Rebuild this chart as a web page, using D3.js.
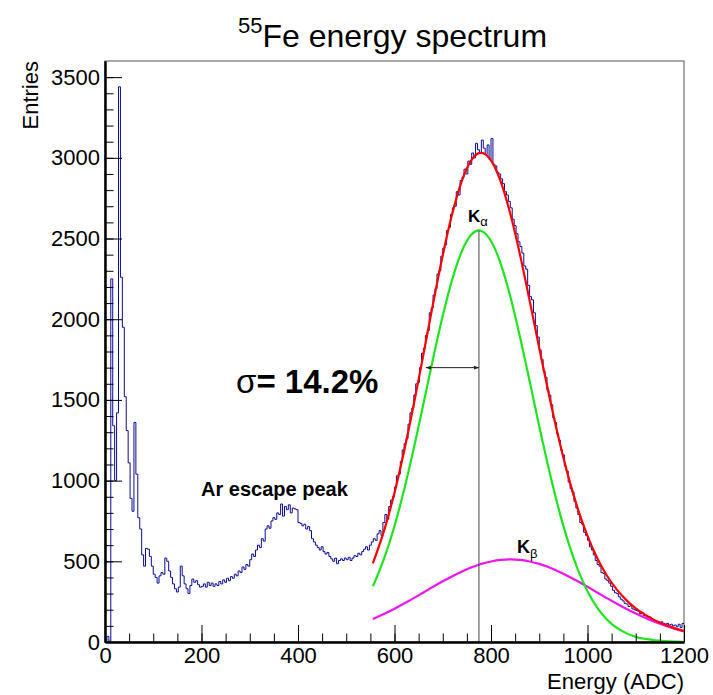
<!DOCTYPE html>
<html>
<head>
<meta charset="utf-8">
<title>55Fe energy spectrum</title>
<script src="https://d3js.org/d3.v7.min.js"></script>
<style>
  body { margin: 0; background: #fff; }
  svg { display: block; font-family: "Liberation Sans", Arial, Helvetica, sans-serif; }
  .axis text { font-size: 22px; fill: #000; font-family: "Liberation Sans", Arial, sans-serif; }
  .axis path.domain { stroke: #000; stroke-width: 2; }
  .axis line { stroke: #000; stroke-width: 1; }
  .fit { fill: none; stroke-width: 2.2; }
</style>
</head>
<body>
<script>
// -----------------------------------------------------------------------------
// data
// -----------------------------------------------------------------------------
var binWidth = 4;   // ADC per bin, 300 bins from 0 to 1200

var counts = [
  // 0 - 96
  0, 35, 5, 2250, 1340, 1000, 1420, 3440, 2260, 1950, 1520, 1310, 1110, 890, 810, 1360, 1040, 770, 700, 540, 470, 580, 575, 530, 470,
  // 100 - 196
  420, 400, 365, 410, 430, 420, 520, 500, 440, 400, 360, 330, 310, 340, 470, 410, 360, 330, 300, 350, 390, 370, 380, 355, 340,
  // 200 - 296
  345, 360, 340, 370, 350, 365, 345, 360, 350, 375, 360, 385, 370, 395, 380, 405, 395, 420, 410, 440, 430, 465, 450, 480, 470,
  // 300 - 396
  510, 545, 530, 570, 600, 585, 640, 625, 700, 720, 705, 750, 770, 760, 800, 790, 855, 780, 840, 820, 850, 800, 830, 825, 820,
  // 400 - 496
  740, 735, 720, 730, 700, 715, 690, 640, 620, 600, 585, 570, 590, 560, 545, 555, 530, 515, 500, 520, 485, 505, 515, 505, 520,
  // 500 - 596
  510, 525, 505, 520, 535, 530, 550, 540, 560, 575, 590, 570, 600, 620, 640, 630, 670, 690, 660, 740, 790, 760, 840, 880, 900,
  // 600 - 696
  960, 1030, 1040, 1120, 1190, 1230, 1260, 1350, 1420, 1450, 1530, 1600, 1610, 1700, 1790, 1820, 1900, 1930, 2040, 2070, 2150, 2190, 2280, 2300, 2390,
  // 700 - 796
  2440, 2460, 2550, 2570, 2650, 2690, 2700, 2790, 2770, 2860, 2880, 2930, 2900, 2980, 2960, 3030, 3000, 3090, 3050, 3030, 3110, 3060, 3020, 3080, 2990,
  // 800 - 896
  3120, 2960, 2950, 2910, 2900, 2870, 2840, 2790, 2770, 2730, 2690, 2620, 2580, 2530, 2480, 2450, 2410, 2330, 2310, 2210, 2140, 2120, 2040, 1960, 1890,
  // 900 - 996
  1810, 1750, 1680, 1640, 1560, 1530, 1470, 1390, 1360, 1290, 1250, 1190, 1160, 1090, 1060, 990, 950, 930, 870, 830, 790, 740, 730, 680, 660,
  // 1000 - 1096
  630, 590, 570, 540, 505, 480, 470, 430, 425, 390, 380, 365, 345, 320, 305, 300, 280, 265, 255, 240, 235, 220, 225, 205, 200,
  // 1100 - 1196
  195, 190, 175, 180, 165, 160, 150, 155, 140, 135, 130, 125, 120, 125, 115, 110, 115, 105, 110, 100, 105, 95, 110, 90, 115
];

// fit curves, sampled along the energy axis
var fitEnergy = [555, 560, 580, 600, 620, 640, 660, 680, 700, 720, 740, 760, 775, 780, 800, 820, 840, 860, 880, 900,
                 920, 940, 960, 980, 1000, 1020, 1040, 1060, 1080, 1100, 1120, 1140, 1160, 1180, 1200];
var kAlphaFit = [345, 378, 530, 719, 945, 1201, 1476, 1756, 2021, 2250, 2424, 2526, 2550, 2547, 2485, 2345, 2141, 1892, 1617, 1337,
                 1070, 828, 620, 449, 315, 213, 140, 89, 55, 32, 19, 10, 6, 3, 1.5];
var kBetaFit  = [142, 149, 176, 206, 239, 272, 307, 342, 376, 408, 437, 463, 479, 484, 499, 509, 512, 509, 499, 484,
                 463, 437, 408, 376, 342, 307, 272, 239, 206, 176, 149, 124, 102, 83, 66];
var totalFit  = [487, 527, 706, 925, 1184, 1473, 1783, 2098, 2397, 2658, 2861, 2989, 3029, 3031, 2984, 2854, 2653, 2401, 2116, 1821,
                 1533, 1265, 1028, 825, 657, 520, 412, 328, 261, 208, 168, 134, 108, 86, 68];

var kAlphaMean = 775, kAlphaPeak = 2550;
var sigmaLeft = 665, sigmaLevel = 1700;

var xTicks = [0, 200, 400, 600, 800, 1000, 1200];
var yTicks = [0, 500, 1000, 1500, 2000, 2500, 3000, 3500];

// -----------------------------------------------------------------------------
// layout
// -----------------------------------------------------------------------------
var size  = { wt: 713, ht: 695 };
var frame = { left: 105, right: 684, top: 61, bottom: 642 };

var svg = d3.select("body").append("svg")
  .attr("width", size.wt)
  .attr("height", size.ht);

var x = d3.scaleLinear().domain([0, 1200]).range([frame.left, frame.right]);
var y = d3.scaleLinear().domain([0, 3600]).range([frame.bottom, frame.top]);

svg.append("defs").append("marker")
  .attr("id", "arrowhead")
  .attr("viewBox", "0 0 10 10")
  .attr("refX", 10).attr("refY", 5)
  .attr("markerWidth", 5).attr("markerHeight", 5)
  .attr("orient", "auto-start-reverse")
  .append("path").attr("d", "M0,1 L10,5 L0,9 z").attr("fill", "#222");

// frame
svg.append("rect")
  .attr("x", frame.left).attr("y", frame.top)
  .attr("width", frame.right - frame.left).attr("height", frame.bottom - frame.top)
  .attr("fill", "none").attr("stroke", "#555").attr("stroke-width", 1);

// histogram
var histPts = counts.map(function(c, i) { return [i * binWidth, c]; });
histPts.push([counts.length * binWidth, counts[counts.length - 1]]);

svg.append("path")
  .datum(histPts)
  .attr("fill", "none")
  .attr("stroke", "#0a0a96")
  .attr("stroke-width", 1)
  .attr("d", d3.line().curve(d3.curveStepAfter)
    .x(function(d) { return x(d[0]); })
    .y(function(d) { return y(d[1]); }));

// fits
var fitLine = d3.line().curve(d3.curveMonotoneX)
  .x(function(d) { return x(d[0]); })
  .y(function(d) { return y(d[1]); });

function zipFit(vals) { return fitEnergy.map(function(e, i) { return [e, vals[i]]; }); }

svg.append("path").attr("class", "fit").attr("stroke", "#f014f0").attr("d", fitLine(zipFit(kBetaFit)));
svg.append("path").attr("class", "fit").attr("stroke", "#1ee61e").attr("d", fitLine(zipFit(kAlphaFit)));
svg.append("path").attr("class", "fit").attr("stroke", "#ff0000").attr("d", fitLine(zipFit(totalFit)));

// mean line and sigma arrow
svg.append("line")
  .attr("x1", x(kAlphaMean)).attr("x2", x(kAlphaMean))
  .attr("y1", y(0)).attr("y2", y(kAlphaPeak))
  .attr("stroke", "#444").attr("stroke-width", 1);

svg.append("line")
  .attr("x1", x(sigmaLeft)).attr("x2", x(kAlphaMean))
  .attr("y1", y(sigmaLevel)).attr("y2", y(sigmaLevel))
  .attr("stroke", "#222").attr("stroke-width", 1)
  .attr("marker-start", "url(#arrowhead)")
  .attr("marker-end", "url(#arrowhead)");

// axes, ticks inside the frame like ROOT
svg.append("g").attr("class", "axis").attr("transform", "translate(0," + frame.bottom + ")")
  .call(d3.axisBottom(x).tickValues(d3.range(0, 1201, 50)).tickSize(-8.5).tickSizeOuter(0).tickFormat(""));
svg.append("g").attr("class", "axis").attr("transform", "translate(0," + frame.bottom + ")")
  .call(d3.axisBottom(x).tickValues(xTicks).tickSize(-17).tickSizeOuter(0).tickPadding(5).tickFormat(d3.format("d")));

svg.append("g").attr("class", "axis").attr("transform", "translate(" + frame.left + ",0)")
  .call(d3.axisLeft(y).tickValues(d3.range(0, 3600, 100)).tickSize(-8.5).tickSizeOuter(0).tickFormat(""));
svg.append("g").attr("class", "axis").attr("transform", "translate(" + frame.left + ",0)")
  .call(d3.axisLeft(y).tickValues(yTicks).tickSize(-17).tickSizeOuter(0).tickPadding(5).tickFormat(d3.format("d")));

// axis titles
svg.append("text")
  .attr("x", frame.right).attr("y", 689)
  .attr("text-anchor", "end")
  .style("font-size", "22px")
  .text("Energy (ADC)");

svg.append("text")
  .attr("transform", "translate(38," + frame.top + ") rotate(-90)")
  .attr("text-anchor", "end")
  .style("font-size", "22px")
  .text("Entries");

// title
var title = svg.append("text").attr("x", 238).attr("y", 47);
title.append("tspan").style("font-size", "22px").attr("dy", -14).text("55");
title.append("tspan").style("font-size", "32px").attr("dy", 14).text("Fe energy spectrum");

// annotations
svg.append("text")
  .attr("x", 201).attr("y", 496)
  .style("font-size", "20px").style("font-weight", "bold")
  .text("Ar escape peak");

var sig = svg.append("text").attr("x", 236).attr("y", 393).style("font-size", "33px");
sig.append("tspan").text("σ");
sig.append("tspan").style("font-weight", "bold").text("= 14.2%");

var ka = svg.append("text").attr("x", 468).attr("y", 222);
ka.append("tspan").style("font-size", "17px").style("font-weight", "bold").text("K");
ka.append("tspan").style("font-size", "13px").attr("dy", 4).text("α");

var kb = svg.append("text").attr("x", 517).attr("y", 553);
kb.append("tspan").style("font-size", "18px").style("font-weight", "bold").text("K");
kb.append("tspan").style("font-size", "13px").attr("dy", 5).text("β");
</script>
</body>
</html>
